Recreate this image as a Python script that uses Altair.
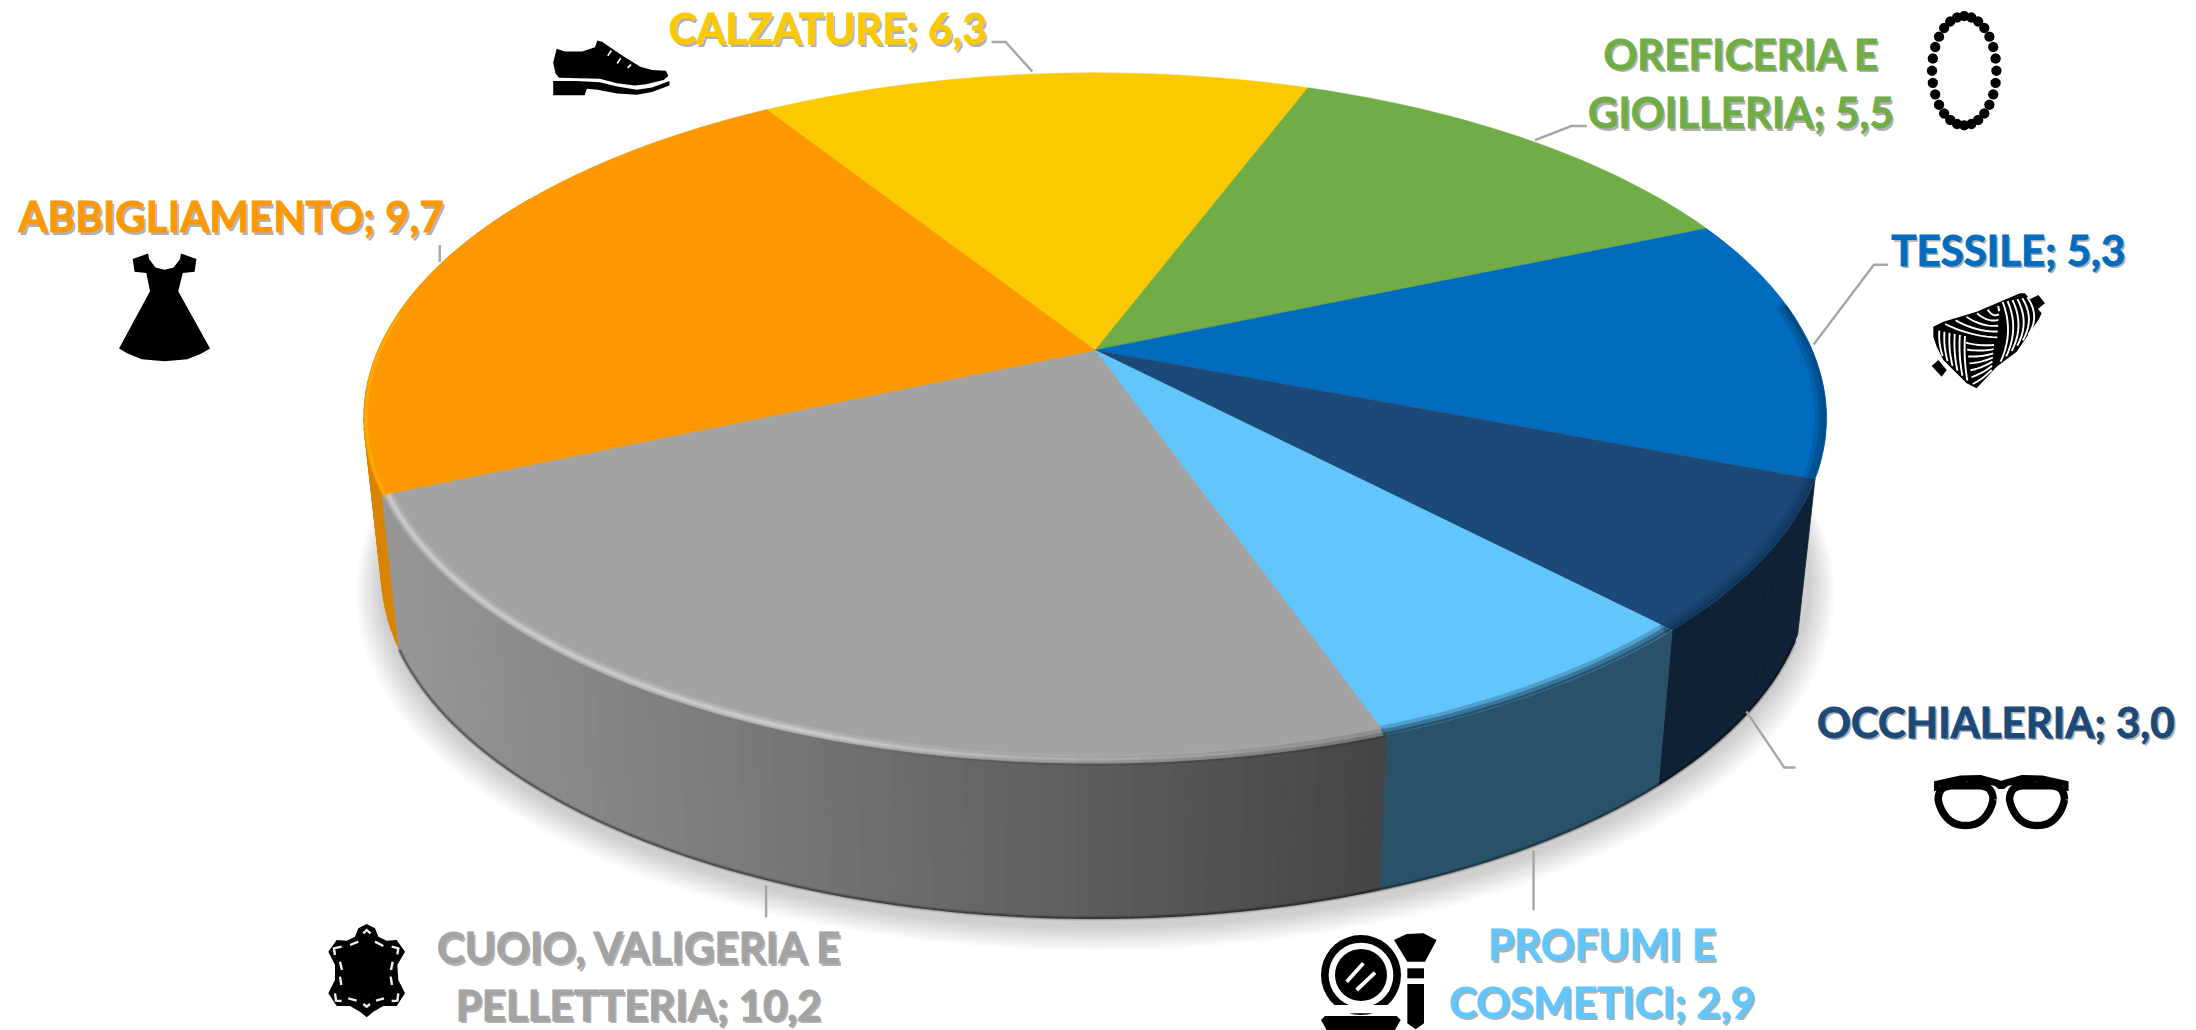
import math
import altair as alt
import pandas as pd

# ---------- chart values ----------
categories = ["CALZATURE", "OREFICERIA E GIOILLERIA", "TESSILE", "OCCHIALERIA",
              "PROFUMI E COSMETICI", "CUOIO, VALIGERIA E PELLETTERIA", "ABBIGLIAMENTO"]
values = [6.3, 5.5, 5.3, 3.0, 2.9, 10.2, 9.7]
top_colors = ["#FBC900", "#70AD47", "#016CBD", "#1C4A78", "#62C6FC", "#A3A3A3", "#FD9800"]
side_colors = ["#C29B00", "#56853A", "#014E8C", "#0F2235", "#295268", "#777777", "#D98400"]
text_lines = [["CALZATURE; 6,3"], ["OREFICERIA E", "GIOILLERIA; 5,5"], ["TESSILE; 5,3"],
              ["OCCHIALERIA; 3,0"], ["PROFUMI E", "COSMETICI; 2,9"],
              ["CUOIO, VALIGERIA E", "PELLETTERIA; 10,2"], ["ABBIGLIAMENTO; 9,7"]]

# ---------- layout ----------
F = 2196 / 1568
START = -32.3
CX, CY = 782 * F, 250 * F
A = 512 * F
TOP_Y, BOT_Y = 52 * F, 545 * F
C = 0.1968
B = TOP_Y * (1 + C) - CY
DEPTH = 155.0
SHRINK = 0.976
label_centers = [[(591, 21)], [(1243, 39), (1243, 81)], [(1434, 179)], [(1425, 516)],
                 [(1144, 675), (1144, 716)], [(456, 677), (456, 718)], [(165, 155)]]
leaders = [[(708, 30), (718, 30), (737, 51)], [(1133, 90), (1122, 90), (1096, 100)],
           [(1348, 189), (1338, 189), (1295, 246)], [(1282, 548), (1274, 548), (1247, 508)],
           [(1095, 607), (1095, 650)], [(547, 632), (547, 655)], [(314, 175), (314, 187)]]


def top(theta, r=1.0):
    t = math.radians(theta)
    u, v = r * math.sin(t), r * math.cos(t)
    d = 1 + C * v
    return [CX + A * u / d, (CY + B * v) / d]


def bottom(theta, r=1.0):
    x, y = top(theta, r)
    return [CX + SHRINK * (x - CX), y + DEPTH]


def rng(a, b, step=1.0):
    n = max(2, int(abs(b - a) / step) + 1)
    return [a + (b - a) * i / (n - 1) for i in range(n)]


features = []


def add(kind, coords, fill="none", stroke="none", sw=0.0, op=1.0):
    features.append({"type": "Feature",
                     "geometry": {"type": kind, "coordinates": coords},
                     "properties": {"fill": fill, "stroke": stroke, "sw": sw, "op": op}})


def poly(pts, fill, op=1.0, stroke="none", sw=0.0):
    pts = [list(p) for p in pts]
    add("Polygon", [pts + [pts[0]]], fill=fill, op=op, stroke=stroke, sw=sw)


def line(pts, stroke, sw, op=1.0):
    add("LineString", [list(p) for p in pts], stroke=stroke, sw=sw, op=op)


def mix(c1, c2, t):
    a = [int(c1[i:i + 2], 16) for i in (1, 3, 5)]
    b = [int(c2[i:i + 2], 16) for i in (1, 3, 5)]
    return "#%02x%02x%02x" % tuple(round(a[i] + (b[i] - a[i]) * t) for i in range(3))


def lerp(p, q, t):
    return (p[0] + (q[0] - p[0]) * t, p[1] + (q[1] - p[1]) * t)


# slice angle boundaries derived from the values
total = sum(values)
bounds = [START]
for v in values:
    bounds.append(bounds[-1] + v / total * 360)

# soft shadow under the pie
for i in range(12):
    k = 1.036 - i * 0.003
    dy = 20 - i * 1.0
    pts = []
    for th in rng(0, 360, 4):
        x, y = bottom(th)
        ey = 298.5 * F + DEPTH
        pts.append([CX + k * (x - CX), ey + k * (y - ey) + dy])
    poly(pts, "#000000", op=0.014)


# side walls, back to front, swept in narrow strips so the silhouette is complete
def side(a, b, color):
    steps = rng(a, b, 1.5)
    for p, q in zip(steps[:-1], steps[1:]):
        poly([top(p), top(q), bottom(q), bottom(p)], color, stroke=color, sw=0.8)


side(bounds[6], 300, side_colors[6])
side(bounds[3], bounds[4], side_colors[3])
# thin blue wall sliver at the right-hand extreme
pts = [top(t) for t in rng(88, bounds[3])]
poly(pts + [[p[0] - 3, p[1] + 8] for p in reversed(pts)], side_colors[2])
side(bounds[4], bounds[5], side_colors[4])
# the grey wall is shaded from left to right
steps = rng(bounds[5], bounds[6], 1.2)
for a, b in zip(steps[:-1], steps[1:]):
    x = (top(a)[0] + top(b)[0]) / 2
    t = (x - 285 * F) / (705 * F)
    col = mix("#969696", "#444444", max(0, min(1, t)))
    poly([top(a), top(b), bottom(b), bottom(a)], col, stroke=col, sw=1.2)
# darker lower edge of the wall
for w, o in [(5, 0.10), (3, 0.16), (1.5, 0.22)]:
    line([bottom(t) for t in rng(bounds[3] + 1, bounds[6])], "#000000", w, o)

# top faces
for i in range(len(categories)):
    a, b = bounds[i], bounds[i + 1]
    poly([[CX, CY]] + [top(t) for t in rng(a, b)], top_colors[i], stroke=top_colors[i], sw=0.5)

# bevel along the front rim: dark for the blues, a light ridge on the grey
for w, o, r in [(9, 0.14, 0.990), (6, 0.2, 0.994), (3, 0.3, 0.998)]:
    line([top(t, r) for t in rng(82, bounds[4] + 0.4)], "#00223f", w, o)
    line([top(t, r) for t in rng(bounds[4], bounds[5] + 0.1)], "#10293a", w, o * 1.7)
steps = rng(bounds[5], bounds[6], 2.0)
for a, b in zip(steps[:-1], steps[1:]):
    h = max(0.0, min(1.0, (a - bounds[5]) / 36))
    for w, o, r in [(9, 0.18, 0.992), (5.5, 0.25, 0.993), (2.5, 0.3, 0.993)]:
        if h > 0.02:
            line([top(a, r), top(b, r)], "#E8E8E8", w, o * h)
    for w, o, r in [(10, 0.16, 0.996), (5, 0.22, 0.999)]:
        line([top(a, r), top(b, r)], "#2a2a2a", w, o * (1 - h))
line([top(t, 0.997) for t in rng(bounds[6] - 0.5, bounds[6] + 30)], "#FFB400", 3, 0.6)

# leader lines
for pts in leaders:
    line([(x * F, y * F) for x, y in pts], "#A6A6A6", 2.4)


# ---------- pictograms ----------
def box(x0, y0, x1, y1):
    def f(p):
        return [x0 * F + (x1 - x0) * F * p[0] / 100, y0 * F + (y1 - y0) * F * p[1] / 100]
    return f


def crop(ox, oy):
    def f(p):
        return [ox + p[0] / 3, oy + p[1] / 3]
    return f


def circle(cx, cy, r, n=36):
    return [[cx + r * math.cos(2 * math.pi * i / n), cy + r * math.sin(2 * math.pi * i / n)] for i in range(n)]


def quad(p0, p1, p2, n=10):
    return [[(1 - t) ** 2 * p0[k] + 2 * t * (1 - t) * p1[k] + t * t * p2[k] for k in (0, 1)]
            for t in [i / n for i in range(n + 1)]]


K, W = "#000000", "#FFFFFF"
# shoe
f = box(395, 29, 478, 68)
poly(map(f, [(3, 15), (10, 20), (25, 20), (36, 12), (38, 0), (42, 2), (60, 28), (75, 48), (85, 54), (97, 55),
             (99, 65), (95, 72), (80, 80), (70, 82), (55, 78), (40, 70), (5, 68), (2, 60), (0, 40)]), K)
poly(map(f, [(0, 74), (20, 74), (40, 76), (55, 84), (72, 90), (85, 86), (100, 74), (100, 82), (85, 94), (72, 99),
             (55, 97), (38, 90), (29, 88), (27, 100), (0, 100)]), K)
for a, b in [((47, 28), (50, 18)), ((55, 42), (58, 32)), ((64, 50), (67, 44))]:
    line([f(a), f(b)], W, 1.6)
# dress
f = box(85, 181, 150, 258)
poly(map(f, [(15, 5), (32, 0), (33, 5), (40, 13), (50, 15), (60, 13), (67, 5), (68, 0), (85, 5), (83, 17), (70, 18),
             (65, 35), (100, 88), (90, 93), (75, 98), (50, 100), (25, 98), (10, 93), (0, 88), (34, 35), (30, 18),
             (17, 17)]), K)
# necklace
for i in range(28):
    t = 2 * math.pi * i / 28
    poly(circle((1402.5 + 23 * math.cos(t)) * F, (50.5 + 39 * math.sin(t)) * F, 5.2, 12), K)
# yarn
f = crop(1910, 280)
poly(map(f, [(70, 140), (100, 125), (200, 95), (330, 40), (345, 40), (395, 100), (385, 120), (320, 215), (260, 260),
             (200, 325), (170, 310), (100, 240), (80, 200), (70, 170)]), K)
poly(map(f, [(65, 258), (85, 240), (110, 270), (95, 290)]), K)
poly(map(f, [(355, 60), (385, 45), (405, 70), (380, 90)]), K)
for k in range(6):
    t = k / 5
    s, e = lerp((105, 132), (265, 78), t), lerp((262, 172), (268, 85), t)
    line([f(p) for p in quad(s, ((s[0] + e[0]) / 2, (s[1] + e[1]) / 2 + 18), e)], W, 1.9)
for k in range(6):
    t = k / 5
    s, e = lerp((278, 66), (352, 52), t), lerp((272, 245), (355, 165), t)
    line([f(p) for p in quad(s, ((s[0] + e[0]) / 2 + 38, (s[1] + e[1]) / 2), e)], W, 1.9)
for k in range(6):
    t = k / 5
    s, e = lerp((88, 152), (165, 168), t), lerp((98, 228), (172, 302), t)
    line([f(p) for p in quad(s, ((s[0] + e[0]) / 2 - 8, (s[1] + e[1]) / 2), e)], W, 1.9)
for k in range(7):
    t = k / 6
    s, e = lerp((168, 188), (188, 312), t), lerp((252, 195), (245, 270), t)
    line([f(p) for p in quad(s, ((s[0] + e[0]) / 2, (s[1] + e[1]) / 2 + 7), e)], W, 1.9)
# glasses
f = box(1380, 553, 1478, 593)
for cx in (24, 76):
    pts = []
    for i in range(41):
        t = 2 * math.pi * i / 40
        s, c = math.sin(t), math.cos(t)
        if s < 0:
            pts.append(f((cx + 20 * math.copysign(abs(c) ** 0.35, c), 45 + 25 * s)))
        else:
            pts.append(f((cx + (20 - 3 * s) * math.copysign(abs(c) ** 0.8, c), 45 + 46 * s)))
    line(pts, K, 7.5)
poly(map(f, [(1, 12), (20, 2), (35, 1), (47, 9), (50, 11), (53, 9), (65, 1), (80, 2), (99, 12), (99, 30), (96, 28),
             (95, 20), (75, 13), (55, 20), (52, 26), (48, 26), (45, 20), (25, 13), (5, 20), (4, 28), (1, 30)]), K)
# mirror and brush
f = crop(1300, 920)
poly(map(f, circle(183, 165, 120)), K)
poly(map(f, circle(183, 165, 97)), W)
poly(map(f, circle(183, 165, 78)), K)
poly(map(f, [(100, 255), (265, 255), (265, 280), (100, 280)]), W)
poly(map(f, [(75, 288), (290, 288), (302, 300), (285, 330), (80, 330), (63, 300)]), K)
line([f((140, 185)), f((190, 130))], W, 3.8)
line([f((170, 210)), f((225, 158))], W, 3.8)
poly(map(f, [(282, 60), (320, 42), (370, 40), (410, 60), (375, 125), (322, 125)]), K)
poly(map(f, [(322, 145), (372, 145), (372, 175), (322, 175)]), K)
poly(map(f, [(322, 192), (372, 192), (372, 310), (347, 328), (322, 310)]), K)
# leather
f = crop(320, 900)
poly(map(f, [(140, 72), (115, 85), (105, 110), (80, 122), (50, 120), (25, 155), (45, 195), (45, 240), (25, 280),
             (50, 318), (90, 318), (120, 335), (140, 352), (160, 335), (190, 318), (230, 318), (255, 280), (235, 240),
             (232, 195), (255, 155), (230, 120), (200, 122), (175, 110), (165, 85)]), K)
for seg in [[(130, 100), (140, 90), (152, 100)], [(90, 135), (115, 125)], [(165, 125), (190, 138)],
            [(45, 165), (42, 145), (65, 140)], [(215, 140), (235, 145), (232, 163)], [(60, 185), (66, 210)],
            [(218, 185), (213, 210)], [(60, 230), (64, 255)], [(212, 230), (216, 255)],
            [(45, 280), (48, 302), (65, 303)], [(215, 303), (232, 302), (235, 280)], [(85, 295), (110, 302)],
            [(168, 302), (192, 295)], [(130, 312), (140, 320), (150, 312)]]:
    line([f(p) for p in seg], "#F3EEDF", 2.4)

# ---------- labels ----------
rows = []
for i, lines in enumerate(text_lines):
    for t, (x, y) in zip(lines, label_centers[i]):
        rows.append({"t": t, "lon": x * F, "lat": y * F + 2, "c": top_colors[i]})
labels = pd.DataFrame(rows)

shapes = alt.Chart(alt.InlineData(values=features)).mark_geoshape().encode(
    fill=alt.Fill("properties.fill:N", scale=None),
    stroke=alt.Stroke("properties.stroke:N", scale=None),
    strokeWidth=alt.StrokeWidth("properties.sw:Q", scale=None),
    opacity=alt.Opacity("properties.op:Q", scale=None),
).project(type="identity", scale=1, translate=[-8, -8])

FONT = dict(font="Lato", fontWeight="bold", fontSize=42, align="center", baseline="middle")
shadow = alt.Chart(labels).mark_text(dx=2, dy=2.5, opacity=0.45, color="#555555", **FONT).encode(
    longitude="lon:Q", latitude="lat:Q", text="t:N"
).project(type="identity", scale=1, translate=[-8, -8])
text = alt.Chart(labels).mark_text(strokeWidth=0.9, **FONT).encode(
    longitude="lon:Q", latitude="lat:Q", text="t:N",
    fill=alt.Fill("c:N", scale=None), stroke=alt.Stroke("c:N", scale=None),
).project(type="identity", scale=1, translate=[-8, -8])

chart = alt.layer(shapes, shadow, text).properties(
    width=2180, height=1022, padding=0, autosize=alt.AutoSizeParams(type="none")
).configure_view(stroke=None)
chart.save("out.html", embed_options={"renderer": "svg", "actions": False})
